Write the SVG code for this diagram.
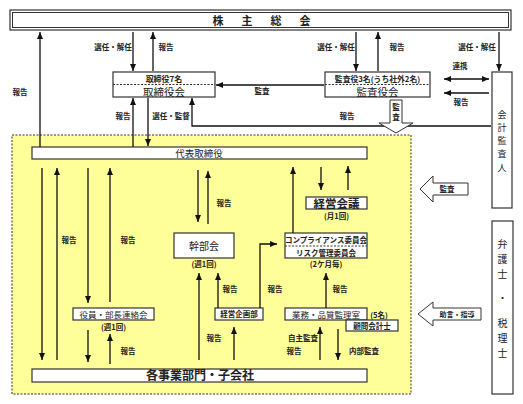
<svg xmlns="http://www.w3.org/2000/svg" width="523" height="404" viewBox="0 0 523 404">
<defs>
<marker id="ah" markerUnits="userSpaceOnUse" markerWidth="8" markerHeight="6" refX="7" refY="3" orient="auto-start-reverse"><path d="M0,0 L7,3 L0,6 z" fill="#111"/></marker>
<style>
text{font-family:"Noto Sans CJK JP","Noto Sans",sans-serif;fill:#222;text-anchor:middle;font-weight:bold}
.box{fill:#fff;stroke:#333;stroke-width:1.2}
.ln{fill:none;stroke:#111;stroke-width:1.3}
.ar{fill:none;stroke:#111;stroke-width:1.3;marker-end:url(#ah)}
.dash{stroke:#333;stroke-width:1;stroke-dasharray:2,1.5}
.lb{font-size:7.5px}
.sm{font-size:8px}
.big{font-size:10.5px;font-weight:normal}
.blk{fill:#fff;stroke:#333;stroke-width:1}
.v{font-size:9px;font-weight:normal}
</style>
</defs>
<rect x="12" y="135" width="399" height="259" fill="#FFFF99" stroke="#333" stroke-width="1" stroke-dasharray="2,1.5"/>
<g id="shareholders">
<rect x="10" y="10" width="501" height="20" class="box"/>
<rect x="12.5" y="12.5" width="496" height="15" fill="none" stroke="#333" stroke-width="1"/>
<text x="218 247 276 305" y="24.5" style="font-size:11px">株主総会</text>
</g>
<g id="board">
<rect x="113" y="72" width="102" height="25" class="box"/>
<line x1="113" y1="84.5" x2="215" y2="84.5" class="dash"/>
<text x="164" y="81.5" class="sm">取締役7名</text>
<text x="164" y="95.6" class="big">取締役会</text>
</g>
<g id="auditors">
<rect x="325" y="72" width="105" height="25" class="box"/>
<line x1="325" y1="84.5" x2="430" y2="84.5" class="dash"/>
<text x="377.5" y="81.5" style="font-size:7.8px">監査役3名(うち社外2名)</text>
<text x="377.5" y="95.6" class="big">監査役会</text>
</g>
<g id="accounting-auditor">
<rect x="492" y="72" width="20" height="136" class="box"/>
<text x="502" y="117.5" class="v">会</text>
<text x="502" y="130.8" class="v">計</text>
<text x="502" y="144.1" class="v">監</text>
<text x="502" y="157.4" class="v">査</text>
<text x="502" y="170.7" class="v">人</text>
</g>
<g id="lawyers">
<rect x="492" y="221" width="21" height="173" class="box"/>
<text x="502.5" y="248" class="v" style="font-size:10px">弁</text>
<text x="502.5" y="263" class="v" style="font-size:10px">護</text>
<text x="502.5" y="278" class="v" style="font-size:10px">士</text>
<text x="502.5" y="302" class="v" style="font-size:10px">・</text>
<text x="502.5" y="327" class="v" style="font-size:10px">税</text>
<text x="502.5" y="342" class="v" style="font-size:10px">理</text>
<text x="502.5" y="357" class="v" style="font-size:10px">士</text>
</g>
<g id="president">
<rect x="32" y="147" width="335" height="12" class="box"/>
<text x="199" y="156.5" style="font-size:9.5px;font-weight:normal">代表取締役</text>
</g>
<g id="management-meeting">
<rect x="306" y="197" width="61" height="12" class="box"/>
<text x="336.5" y="207.5" style="font-size:11.5px">経営会議</text>
<text x="336.5" y="219" class="lb">(月1回)</text>
</g>
<g id="executive-meeting">
<rect x="174" y="233" width="60" height="25" class="box"/>
<text x="204" y="249.5" style="font-size:10px;font-weight:normal">幹部会</text>
<text x="204" y="267" class="lb">(週1回)</text>
</g>
<g id="compliance">
<rect x="285" y="233" width="82" height="25" class="box"/>
<line x1="285" y1="246" x2="367" y2="246" class="dash"/>
<text x="326" y="243" style="font-size:7.5px">コンプライアンス委員会</text>
<text x="326" y="255.5" style="font-size:7.5px">リスク管理委員会</text>
<text x="326" y="267" class="lb">(2ケ月毎)</text>
</g>
<g id="liaison">
<rect x="73" y="308" width="81" height="12" class="box"/>
<text x="113.5" y="317.5" style="font-size:8.5px;font-weight:normal">役員・部長連絡会</text>
<text x="113.5" y="329.5" class="lb">(週1回)</text>
</g>
<g id="planning">
<rect x="215" y="308" width="48" height="12" class="box"/>
<text x="239" y="317.3" class="lb">経営企画部</text>
</g>
<g id="quality">
<rect x="285" y="308" width="82" height="12" class="box"/>
<text x="326" y="317.5" style="font-size:8.5px;font-weight:normal">業務・品質監理室</text>
<text x="379" y="317.5" class="lb">(5名)</text>
</g>
<g id="advisor">
<rect x="346" y="320" width="52" height="11" class="box"/>
<text x="372" y="328.8" class="lb">顧問会計士</text>
</g>
<g id="divisions">
<rect x="32" y="369" width="335" height="13" class="box"/>
<text x="200" y="380" style="font-size:12px">各事業部門・子会社</text>
</g>
<g id="connectors">
<line x1="40" y1="147" x2="40" y2="32" class="ar"/>
<line x1="133" y1="32" x2="133" y2="71" class="ar"/>
<line x1="153" y1="71" x2="153" y2="32" class="ar"/>
<line x1="356" y1="32" x2="356" y2="71" class="ar"/>
<line x1="378" y1="71" x2="378" y2="32" class="ar"/>
<line x1="499" y1="32" x2="499" y2="71" class="ar"/>
<line x1="444" y1="79" x2="489" y2="79" class="ar" style="marker-start:url(#ah)"/>
<line x1="489" y1="93" x2="444" y2="93" class="ar"/>
<line x1="324" y1="85" x2="216" y2="85" class="ar"/>
<polyline points="491,126 192,126 192,98" class="ar"/>
<line x1="133" y1="147" x2="133" y2="98" class="ar"/>
<line x1="148" y1="98" x2="148" y2="146" class="ar"/>
<polygon points="390,100 402,100 402,123 413,123 396,133 379,123 390,123" class="blk"/>
<line x1="42" y1="168" x2="42" y2="360" class="ar"/>
<line x1="57" y1="360" x2="57" y2="168" class="ar"/>
<line x1="88" y1="168" x2="88" y2="303" class="ar"/>
<line x1="110" y1="302" x2="110" y2="168" class="ar"/>
<line x1="88" y1="330" x2="88" y2="362" class="ar"/>
<line x1="110" y1="364" x2="110" y2="334" class="ar"/>
<line x1="198" y1="170" x2="198" y2="222" class="ar"/>
<line x1="208" y1="224" x2="208" y2="171" class="ar"/>
<line x1="199" y1="360" x2="199" y2="273" class="ar"/>
<line x1="218" y1="308" x2="218" y2="273" class="ar"/>
<line x1="234" y1="360" x2="234" y2="327" class="ar"/>
<polyline points="260,308 260,244 277,244" class="ar"/>
<line x1="293" y1="233" x2="293" y2="167" class="ar"/>
<line x1="321" y1="167" x2="321" y2="190" class="ar"/>
<line x1="348" y1="190" x2="348" y2="166" class="ar"/>
<line x1="326" y1="308" x2="326" y2="273" class="ar"/>
<line x1="320" y1="360" x2="320" y2="327" class="ar"/>
<line x1="338" y1="329" x2="338" y2="360" class="ar"/>
<polygon points="420,189 433,176 433,183 468,183 468,195 433,195 433,202" class="blk"/>
<polygon points="418,314 433,302 433,308 481,308 481,320 433,320 433,326" class="blk"/>
</g>
<g id="labels">
<text x="20" y="95" class="lb">報告</text>
<text x="113" y="50" class="lb">選任・解任</text>
<text x="166" y="50" class="lb">報告</text>
<text x="336" y="50" class="lb">選任・解任</text>
<text x="397" y="50" class="lb">報告</text>
<text x="477" y="50" class="lb">選任・解任</text>
<text x="460" y="69" class="lb">連携</text>
<text x="461" y="105" class="lb">報告</text>
<text x="262" y="94" class="lb">監査</text>
<text x="347" y="119" class="lb">報告</text>
<text x="123" y="119" class="lb">報告</text>
<text x="171" y="119" class="lb">選任・監督</text>
<text x="396" y="110" class="lb">監</text>
<text x="396" y="120" class="lb">査</text>
<text x="447" y="191.5" class="lb">監査</text>
<text x="457" y="316.5" style="font-size:7px">助言・指導</text>
<text x="69" y="243" class="lb">報告</text>
<text x="128" y="243" class="lb">報告</text>
<text x="128" y="354" class="lb">報告</text>
<text x="224" y="206" class="lb">報告</text>
<text x="230" y="292" class="lb">報告</text>
<text x="214" y="341" class="lb">報告</text>
<text x="275" y="292" class="lb">報告</text>
<text x="340" y="292" class="lb">報告</text>
<text x="303" y="341" class="lb">自主監査</text>
<text x="294" y="354" class="lb">報告</text>
<text x="364" y="354" class="lb">内部監査</text>
</g>
</svg>
